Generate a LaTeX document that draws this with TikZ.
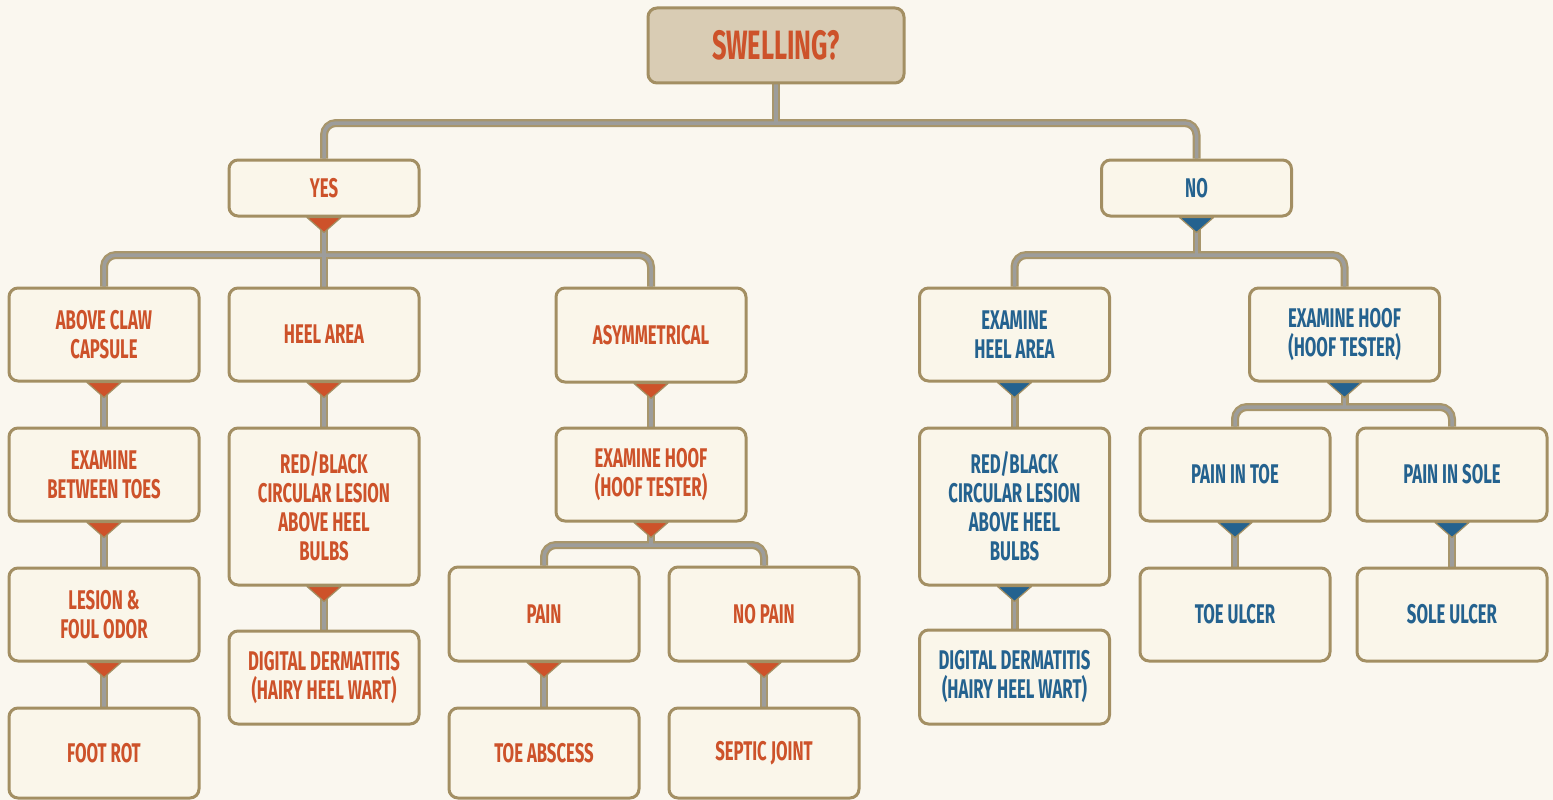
\documentclass[tikz,border=0pt]{standalone}
\usepackage{fontspec}
\setmainfont[FakeStretch=0.62]{Fira Sans}
\usetikzlibrary{backgrounds,calc}
\definecolor{bgc}{HTML}{FAF7EF}
\definecolor{boxc}{HTML}{A38F63}
\definecolor{boxfill}{HTML}{FAF6EA}
\definecolor{topfill}{HTML}{D9CCB4}
\definecolor{orng}{HTML}{CD522A}
\definecolor{blu}{HTML}{24628F}
\definecolor{ctan}{HTML}{A8966C}
\definecolor{cgray}{HTML}{9D9D9B}
\newcommand\mytri[2]{\filldraw[fill=#2,draw=boxc,line width=1.2pt,line join=round]
  ($(#1.south)+(-17,0)$) -- ($(#1.south)+(17,0)$) -- ($(#1.south)+(0,15)$) -- cycle;}
\newcommand\connpaths[1]{%
  \draw[#1] (swell.south) -- (swell.south |- 0,123);
  \draw[#1] (yes.north) -- (yes.north |- 0,123) -- (no.north |- 0,123) -- (no.north);
  \draw[#1] (yes.south) -- (heel.north);
  \draw[#1] (above.north) -- (above.north |- 0,255) -- (asym.north |- 0,255) -- (asym.north);
  \draw[#1] (no.south) -- (no.south |- 0,255);
  \draw[#1] (exheel.north) -- (exheel.north |- 0,255) -- (exhoofR.north |- 0,255) -- (exhoofR.north);
  \draw[#1] (above.south) -- (exbt.north);
  \draw[#1] (exbt.south) -- (lesion.north);
  \draw[#1] (lesion.south) -- (footrot.north);
  \draw[#1] (heel.south) -- (redL.north);
  \draw[#1] (redL.south) -- (ddL.north);
  \draw[#1] (asym.south) -- (exhL.north);
  \draw[#1] (exhL.south) -- (exhL.south |- 0,545);
  \draw[#1] (pain.north) -- (pain.north |- 0,545) -- (nopain.north |- 0,545) -- (nopain.north);
  \draw[#1] (pain.south) -- (toeab.north);
  \draw[#1] (nopain.south) -- (septic.north);
  \draw[#1] (exheel.south) -- (redR.north);
  \draw[#1] (redR.south) -- (ddR.north);
  \draw[#1] (exhoofR.south) -- (exhoofR.south |- 0,407);
  \draw[#1] (paintoe.north) -- (paintoe.north |- 0,407) -- (painsole.north |- 0,407) -- (painsole.north);
  \draw[#1] (paintoe.south) -- (toeulcer.north);
  \draw[#1] (painsole.south) -- (soleulcer.north);
}
\begin{document}
\begin{tikzpicture}[x=1pt,y=-1pt,
  box/.style={draw=boxc, line width=3pt, rounded corners=9pt, fill=boxfill,
    minimum width=190pt, inner sep=0pt, align=center,
    font=\fontsize{27}{29}\bfseries\selectfont},
  obox/.style={box, text=orng},
  bbox/.style={box, text=blu},
  cout/.style={line width=8pt, draw=ctan, rounded corners=12pt},
  cin/.style={line width=3.5pt, draw=cgray, rounded corners=12pt}]
\useasboundingbox (0,0) rectangle (1553,800);
% nodes
\node[box, fill=topfill, text=orng, minimum width=256pt, minimum height=75pt,
  font=\fontsize{41}{44}\bfseries\selectfont] (swell) at (776,45.5) {SWELLING?};
\node[obox, minimum height=56pt] (yes) at (324,188) {YES};
\node[bbox, minimum height=56pt] (no) at (1196.5,188) {NO};
\node[obox, minimum height=93pt] (above) at (104,334.5) {ABOVE CLAW\\CAPSULE};
\node[obox, minimum height=93pt] (heel) at (324,334.5) {HEEL AREA};
\node[obox, minimum height=94pt] (asym) at (651,335) {ASYMMETRICAL};
\node[obox, minimum height=93pt] (exbt) at (104,474.5) {EXAMINE\\BETWEEN TOES};
\node[obox, minimum height=157pt] (redL) at (324,506.5) {RED/BLACK\\CIRCULAR LESION\\ABOVE HEEL\\BULBS};
\node[obox, minimum height=93pt] (exhL) at (651,474.5) {EXAMINE HOOF\\(HOOF TESTER)};
\node[obox, minimum height=93pt] (lesion) at (104,614.5) {LESION \&\\FOUL ODOR};
\node[obox, minimum height=93pt] (ddL) at (324,677.5) {DIGITAL DERMATITIS\\(HAIRY HEEL WART)};
\node[obox, minimum height=94pt] (pain) at (544,614) {PAIN};
\node[obox, minimum height=94pt] (nopain) at (764,614) {NO PAIN};
\node[obox, minimum height=90pt] (footrot) at (104,753) {FOOT ROT};
\node[obox, minimum height=90pt] (toeab) at (544,753) {TOE ABSCESS};
\node[obox, minimum height=90pt] (septic) at (764,753) {SEPTIC JOINT};
\node[bbox, minimum height=93pt] (exheel) at (1014.5,334.5) {EXAMINE\\HEEL AREA};
\node[bbox, minimum height=93pt] (exhoofR) at (1344.5,334.5) {EXAMINE HOOF\\(HOOF TESTER)};
\node[bbox, minimum height=157pt] (redR) at (1014.5,506.5) {RED/BLACK\\CIRCULAR LESION\\ABOVE HEEL\\BULBS};
\node[bbox, minimum height=94pt] (ddR) at (1014.5,677) {DIGITAL DERMATITIS\\(HAIRY HEEL WART)};
\node[bbox, minimum height=93pt] (paintoe) at (1235,474.5) {PAIN IN TOE};
\node[bbox, minimum height=93pt] (painsole) at (1452,474.5) {PAIN IN SOLE};
\node[bbox, minimum height=93pt] (toeulcer) at (1235,614.5) {TOE ULCER};
\node[bbox, minimum height=93pt] (soleulcer) at (1452,614.5) {SOLE ULCER};
% connectors behind
\begin{scope}[on background layer]
  \fill[bgc] (0,0) rectangle (1553,800);
  \connpaths{cout}
  \connpaths{cin}
\end{scope}
% triangles
\mytri{yes}{orng}
\mytri{above}{orng}
\mytri{heel}{orng}
\mytri{asym}{orng}
\mytri{exbt}{orng}
\mytri{redL}{orng}
\mytri{exhL}{orng}
\mytri{lesion}{orng}
\mytri{pain}{orng}
\mytri{nopain}{orng}
\mytri{no}{blu}
\mytri{exheel}{blu}
\mytri{exhoofR}{blu}
\mytri{redR}{blu}
\mytri{paintoe}{blu}
\mytri{painsole}{blu}
\end{tikzpicture}
\end{document}
